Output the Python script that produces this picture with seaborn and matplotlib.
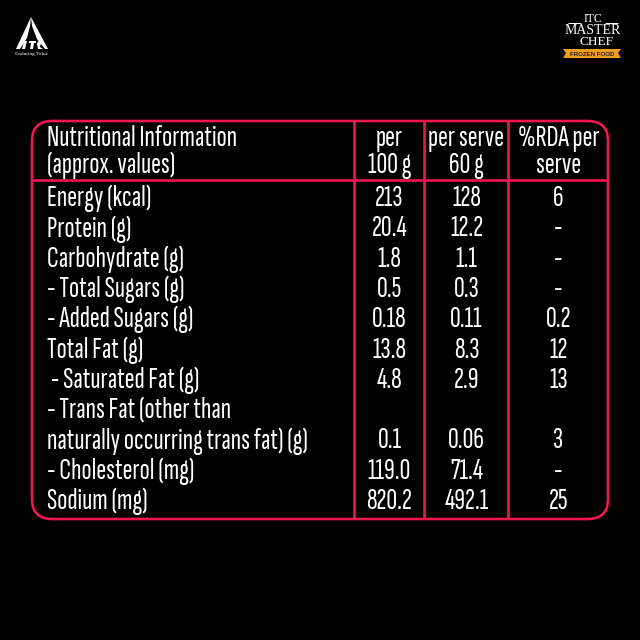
import numpy as np
import matplotlib.pyplot as plt
import seaborn as sns
from matplotlib.colors import ListedColormap
from matplotlib.patches import FancyBboxPatch, Polygon

nutrients = ['Energy (kcal)', 'Protein (g)', 'Carbohydrate (g)', '- Total Sugars (g)',
             '- Added Sugars (g)', 'Total Fat (g)', ' - Saturated Fat (g)',
             '- Trans Fat (other than', 'naturally occurring trans fat) (g)',
             '- Cholesterol (mg)', 'Sodium (mg)']
per_100g = ['213', '20.4', '1.8', '0.5', '0.18', '13.8', '4.8', '', '0.1', '119.0', '820.2']
per_serve = ['128', '12.2', '1.1', '0.3', '0.11', '8.3', '2.9', '', '0.06', '71.4', '492.1']
rda = ['6', '-', '-', '-', '0.2', '12', '13', '', '3', '-', '25']
headers = [['Nutritional Information', '(approx. values)'], ['per', '100 g'],
           ['per serve', '60 g'], ['%RDA per', 'serve']]

PINK = '#ee1650'
FONT = ['Sofia Sans Extra Condensed', 'Liberation Sans']
SIZE = 21.5

sns.set_theme(style='white')
plt.rcParams['font.family'] = FONT
fig = plt.figure(figsize=(6.4, 6.4), dpi=100, facecolor='black')
bg = fig.add_axes([0, 0, 1, 1])
bg.set_xlim(0, 640)
bg.set_ylim(640, 0)
bg.axis('off')


def add_column(x0, x1, y0, y1, labels, left=False, size=SIZE):
    # one blank heatmap per table column, annotations carry the text
    ax = fig.add_axes([x0 / 640, 1 - y1 / 640, (x1 - x0) / 640, (y1 - y0) / 640])
    cells = np.array(labels).reshape(-1, 1)
    sns.heatmap(np.zeros(cells.shape), ax=ax, cmap=ListedColormap(['black']), cbar=False,
                annot=cells, fmt='', xticklabels=False, yticklabels=False,
                annot_kws={'color': 'white', 'fontsize': size, 'family': FONT})
    if left:
        for t in ax.texts:
            t.set_ha('left')
            t.set_x(0)
    ax.patch.set_alpha(0)
    ax.collections[0].set_alpha(0)
    return ax


ROW_TOP, ROW_BOTTOM = 183.5, 516.5
HEAD_TOP, HEAD_BOTTOM = 124.5, 179.5
add_column(47, 350, ROW_TOP, ROW_BOTTOM, nutrients, left=True)
add_column(356, 423, ROW_TOP, ROW_BOTTOM, per_100g)
add_column(426, 507, ROW_TOP, ROW_BOTTOM, per_serve)
add_column(510, 607, ROW_TOP, ROW_BOTTOM, rda)

add_column(47, 350, HEAD_TOP, HEAD_BOTTOM, headers[0], left=True)
add_column(356, 423, HEAD_TOP, HEAD_BOTTOM, headers[1])
add_column(426, 507, HEAD_TOP, HEAD_BOTTOM, headers[2])
add_column(510, 607, HEAD_TOP, HEAD_BOTTOM, headers[3])

# table frame and rules
R = 20
bg.add_patch(FancyBboxPatch((32 + R, 121 + R), 576 - 2 * R, 398 - 2 * R,
                            boxstyle=f'round,pad={R},rounding_size={R}',
                            fc='none', ec=PINK, lw=1.9, zorder=5))
bg.hlines(180, 32, 608, color=PINK, lw=1.9)
bg.vlines([354, 424, 508], 121, 519, color=PINK, lw=1.9)

# ITC logo
bg.add_patch(Polygon([[31, 17], [16, 49], [20, 49], [27, 38], [30, 26]], fc='white', lw=0))
bg.add_patch(Polygon([[31, 17], [48, 49], [45, 49], [37, 39], [32, 26]], fc='white', lw=0))
bg.add_patch(Polygon([[24, 41], [27, 41], [25, 49], [22, 49]], fc='white', lw=0))
bg.add_patch(Polygon([[29, 41], [36, 41], [36, 43], [34, 43], [33, 49], [30, 49], [31, 43], [29, 43]], fc='white', lw=0))
bg.add_patch(Polygon([[38, 41], [41, 43], [40, 47], [43, 49], [38, 49], [37, 44]], fc='white', lw=0))
bg.text(31.5, 54.5, 'Enduring Value', color='white', fontsize=3.8, ha='center', va='center',
        family='Liberation Serif')

# ITC Master Chef logo
bg.text(593, 19, 'ITC', color='white', fontsize=8.5, ha='center', va='center', family='Liberation Serif')
bg.text(592.5, 31, 'MASTER', color='white', fontsize=10, ha='center', va='center', family='Liberation Serif')
bg.text(596, 42, 'CHEF', color='white', fontsize=9.5, ha='center', va='center', family='Liberation Serif')
bg.hlines(23, 568, 581, color='white', lw=0.7)
bg.hlines(23, 605, 618, color='white', lw=0.7)
bg.add_patch(Polygon([[563, 49], [621, 49], [618, 53], [621, 58], [563, 58], [566, 53]], fc='#f0a020', lw=0))
bg.text(592, 55, 'FROZEN FOOD', color='#2a1800', fontsize=4.4, ha='center', va='center',
        family='Liberation Sans', weight='bold')

fig.savefig('out.png', dpi=100, facecolor='black')
